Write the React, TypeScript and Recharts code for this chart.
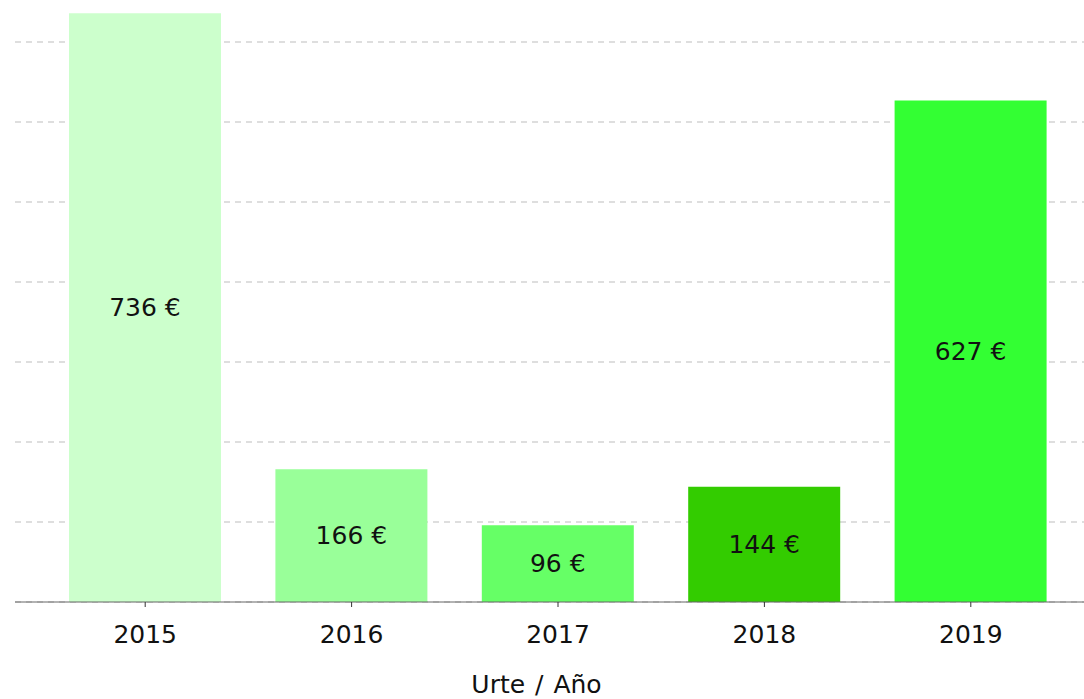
import React from "react";
import { BarChart, Bar, XAxis, YAxis, CartesianGrid, Cell, LabelList } from "recharts";

const years = ["2015", "2016", "2017", "2018", "2019"];
const amounts = [736, 166, 96, 144, 627];
const barColors = ["#ccffcc", "#99ff99", "#66ff66", "#33cc00", "#33ff33"];
const yTicks = [0, 100, 200, 300, 400, 500, 600, 700];
const xTitle = "Urte / Año";

const data = years.map((y, i) => ({ year: y, value: amounts[i] }));

export default function App() {
  return (
    <div style={{ position: "absolute", left: 0, top: 0, fontFamily: "'DejaVu Sans', sans-serif" }}>
      <BarChart width={1084} height={699} data={data} margin={{ top: 2, right: 0, left: 15, bottom: 0 }}>
        <CartesianGrid vertical={false} horizontalValues={yTicks} stroke="#bdbdbd" strokeDasharray="6 5" />
        <YAxis hide domain={[0, 750]} ticks={yTicks} />
        <XAxis
          dataKey="year"
          height={97}
          padding={{ left: 27, right: 10 }}
          stroke="#666666"
          tickSize={5}
          tickMargin={18}
          tick={{ fill: "#111111", fontSize: 25 }}
          tickLine={{ stroke: "#333333" }}
          label={{ value: xTitle, position: "insideBottom", offset: 6, dx: -13, fill: "#111111", fontSize: 25, wordSpacing: 2 }}
        />
        <Bar dataKey="value" barSize={152} isAnimationActive={false}>
          {data.map((d, i) => (
            <Cell key={d.year} fill={barColors[i]} />
          ))}
          <LabelList
            dataKey="value"
            position="center"
            formatter={(v: number) => `${v} €`}
            fill="#111111"
            fontSize={25}
          />
        </Bar>
      </BarChart>
    </div>
  );
}
